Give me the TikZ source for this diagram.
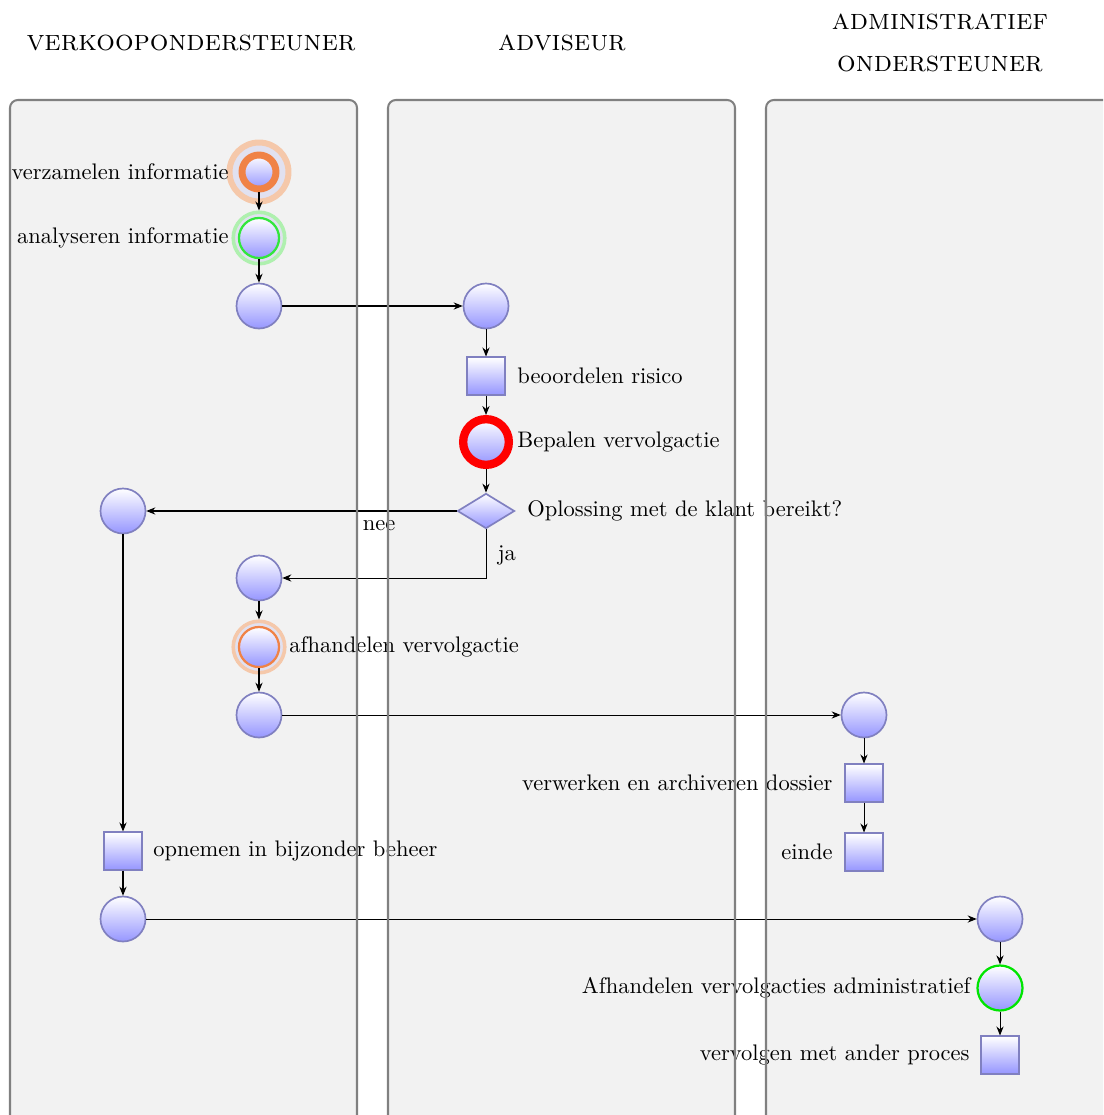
\documentclass[tikz,border=0pt]{standalone}
\usetikzlibrary{shapes.geometric,arrows.meta}
\definecolor{nodeborder}{RGB}{128,128,192}
\definecolor{lanefill}{RGB}{242,242,242}
\definecolor{laneborder}{RGB}{128,128,128}
\definecolor{ringorange}{RGB}{240,130,70}
\definecolor{haloorange}{RGB}{245,200,170}
\definecolor{ringgreen}{RGB}{50,230,60}
\definecolor{halogreen}{RGB}{175,240,175}
\definecolor{lavender}{RGB}{225,225,240}
\definecolor{nodebottom}{RGB}{150,150,255}
\tikzset{
  lanebg/.style={fill=lanefill, rounded corners=3.5pt},
  laneline/.style={draw=laneborder, line width=0.9pt, rounded corners=3.5pt},
  base/.style={top color=white, bottom color=nodebottom, draw=nodeborder, line width=0.75pt, inner sep=0pt},
  evt/.style={base, circle, minimum size=20pt},
  task/.style={base, rectangle, minimum size=16.6pt},
  gate/.style={base, diamond, minimum width=25.4pt, minimum height=15.6pt},
  bigring/.style={evt, draw=ringorange, line width=3.1pt, minimum size=15.1pt},
  smallring/.style={evt, draw=#1, line width=1pt, minimum size=17.8pt},
  redring/.style={evt, draw=red, line width=3.7pt, minimum size=20.3pt},
  greenring/.style={evt, draw=green!90!black, line width=1pt, minimum size=20pt},
  bighalo/.style={circle, inner sep=0pt, fill=lavender, draw=haloorange, line width=2.67pt, minimum size=26.2pt},
  smallhalo/.style={circle, inner sep=0pt, fill=lavender, draw=#1, line width=1.6pt, minimum size=22.9pt},
  lbl/.style={inner sep=0pt, font=\normalsize},
  hdr/.style={inner sep=0pt, font=\fontsize{13}{16}\selectfont\scshape, align=center},
  flow/.style={-{Stealth[length=4pt, width=3.2pt, inset=1.3pt]}, line width=0.45pt, black},
}
\begin{document}
\begin{tikzpicture}[x=0.4444pt, y=-0.4444pt]
\useasboundingbox (0,0) rectangle (1103,1115);
\clip (0,0) rectangle (1103,1115);
% headers
\node[hdr] (h1) at (191,43) {verkoopondersteuner};
\node[hdr] (h2) at (562,43) {adviseur};
\node[hdr] (h3) at (940,43) {administratief\\[3pt]ondersteuner};
% lane fills
\fill[lanebg] (10,100) rectangle (357,1150);
\fill[lanebg] (388,100) rectangle (735,1150);
\fill[lanebg] (766,100) rectangle (1113,1150);
% halos
\node[bighalo] (n1h) at (259,172) {};
\node[smallhalo=halogreen] (n2h) at (259,238) {};
\node[smallhalo=haloorange] (n10h) at (259,647) {};
% nodes
\node[bigring] (n1) at (259,172) {};
\node[smallring=ringgreen] (n2) at (259,238) {};
\node[evt] (n3) at (259,306) {};
\node[evt] (n4) at (486,306) {};
\node[task] (n5) at (486,376) {};
\node[redring] (n6) at (486,442) {};
\node[gate] (n7) at (486,511) {};
\node[evt] (n8) at (123,511) {};
\node[evt] (n9) at (259,578) {};
\node[smallring=ringorange] (n10) at (259,647) {};
\node[evt] (n11) at (259,715) {};
\node[evt] (n12) at (864,715) {};
\node[task] (n13) at (864,783) {};
\node[task] (n14) at (864,852) {};
\node[task] (n15) at (123,851) {};
\node[evt] (n16) at (123,919) {};
\node[evt] (n17) at (1000,919) {};
\node[greenring] (n18) at (1000,988) {};
\node[task] (n19) at (1000,1055) {};
% labels
\node[lbl, anchor=east] (t1) at (229,172) {verzamelen informatie};
\node[lbl, anchor=east] (t2) at (229,238) {analyseren informatie};
\node[lbl, anchor=west] (t5) at (517,376) {beoordelen risico};
\node[lbl, anchor=west] (t6) at (517,442) {Bepalen vervolgactie};
\node[lbl, anchor=west] (t7) at (527,511) {Oplossing met de klant bereikt?};
\node[lbl, anchor=west] (t10) at (289,647) {afhandelen vervolgactie};
\node[lbl, anchor=east] (t13) at (833,783) {verwerken en archiveren dossier};
\node[lbl, anchor=east] (t14) at (833,852) {einde};
\node[lbl, anchor=west] (t15) at (153,851) {opnemen in bijzonder beheer};
\node[lbl, anchor=east] (t18) at (971,988) {Afhandelen vervolgacties administratief};
\node[lbl, anchor=east] (t19) at (970,1055) {vervolgen met ander proces};
% connectors
\draw[flow] (n1) -- (n2h);
\draw[flow] (n2) -- (n3);
\draw[flow] (n3) -- (n4);
\draw[flow] (n4) -- (n5);
\draw[flow] (n5) -- (n6);
\draw[flow] (n6) -- (n7);
\draw[flow] (n7) -- node[lbl, pos=0.25, below=4pt] (nee) {nee} (n8);
\draw[flow] (n7) |- node[lbl, pos=0.27, right=5pt] (ja) {ja} (n9);
\draw[flow] (n9) -- (n10h);
\draw[flow] (n10) -- (n11);
\draw[flow] (n11) -- (n12);
\draw[flow] (n12) -- (n13);
\draw[flow] (n13) -- (n14);
\draw[flow] (n8) -- (n15);
\draw[flow] (n15) -- (n16);
\draw[flow] (n16) -- (n17);
\draw[flow] (n17) -- (n18);
\draw[flow] (n18) -- (n19);
% lane borders on top
\draw[laneline] (10,100) rectangle (357,1150);
\draw[laneline] (388,100) rectangle (735,1150);
\draw[laneline] (766,100) rectangle (1113,1150);
\end{tikzpicture}
\end{document}
